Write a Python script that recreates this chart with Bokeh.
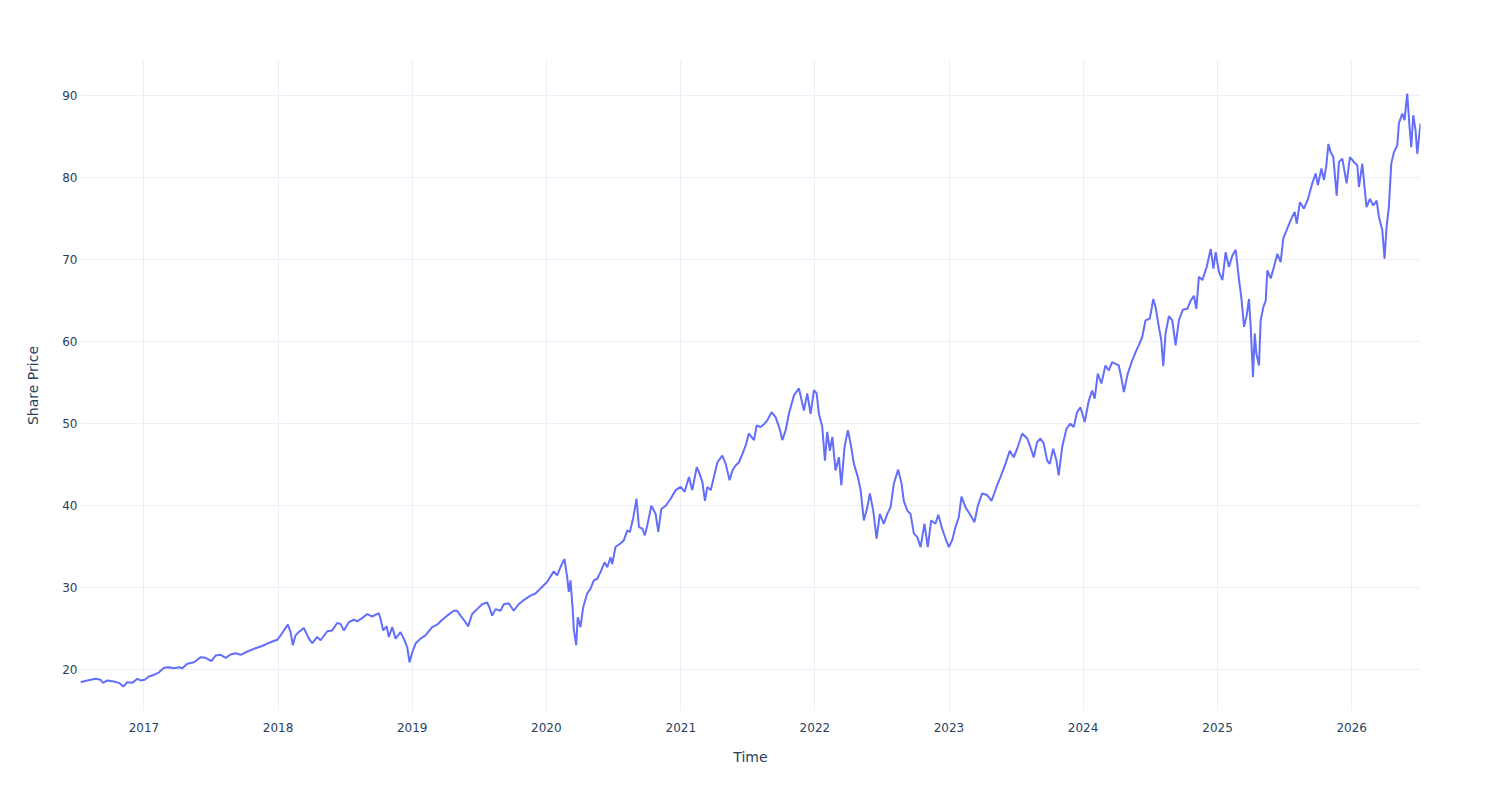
import pandas as pd
from bokeh.plotting import figure
from bokeh.models import Range1d, FixedTicker, DatetimeTickFormatter, ColumnDataSource
from bokeh.embed import file_html
from bokeh.resources import INLINE

# Observation times as decimal years, and the closing share price at each
obs_year = [
    2016.528, 2016.578, 2016.640, 2016.677, 2016.697, 2016.727, 2016.776, 2016.814, 2016.847, 2016.876,
    2016.914, 2016.951, 2016.975, 2017.005, 2017.037, 2017.075, 2017.112, 2017.149, 2017.186, 2017.224,
    2017.261, 2017.286, 2017.323, 2017.373, 2017.423, 2017.460, 2017.502, 2017.534, 2017.572, 2017.609,
    2017.646, 2017.683, 2017.721, 2017.771, 2017.820, 2017.870, 2017.907, 2017.957, 2017.994,
    2018.019, 2018.043, 2018.073, 2018.093, 2018.110, 2018.130, 2018.155, 2018.192, 2018.230,
    2018.255, 2018.292, 2018.317, 2018.367, 2018.404, 2018.441, 2018.466, 2018.490, 2018.528, 2018.565,
    2018.590, 2018.627, 2018.665, 2018.702, 2018.751, 2018.764, 2018.784, 2018.809, 2018.826, 2018.851,
    2018.876, 2018.913, 2018.943, 2018.963, 2018.980, 2019.000, 2019.025, 2019.062, 2019.099, 2019.149,
    2019.186, 2019.224, 2019.261, 2019.310, 2019.335, 2019.360, 2019.385, 2019.417, 2019.447, 2019.484,
    2019.522, 2019.559, 2019.576, 2019.596, 2019.621, 2019.658, 2019.683, 2019.720, 2019.757, 2019.794,
    2019.832, 2019.882, 2019.919, 2019.956, 2020.006, 2020.055, 2020.081, 2020.105, 2020.135, 2020.155,
    2020.167, 2020.180, 2020.197, 2020.204, 2020.222, 2020.234, 2020.254, 2020.274, 2020.304, 2020.329,
    2020.353, 2020.379, 2020.403, 2020.433, 2020.453, 2020.478, 2020.490, 2020.515, 2020.552, 2020.577,
    2020.602, 2020.622, 2020.647, 2020.671, 2020.689, 2020.714, 2020.733, 2020.751, 2020.781, 2020.813,
    2020.833, 2020.855, 2020.888, 2020.925, 2020.962, 2020.999, 2021.029, 2021.061, 2021.086, 2021.119,
    2021.136, 2021.161, 2021.180, 2021.198, 2021.223, 2021.247, 2021.273, 2021.310, 2021.335, 2021.364,
    2021.385, 2021.409, 2021.434, 2021.459, 2021.484, 2021.508, 2021.546, 2021.566, 2021.595, 2021.625,
    2021.645, 2021.677, 2021.707, 2021.737, 2021.757, 2021.782, 2021.806, 2021.844, 2021.881, 2021.918,
    2021.943, 2021.968, 2021.993, 2022.013, 2022.030, 2022.055, 2022.075, 2022.092, 2022.112, 2022.130,
    2022.154, 2022.179, 2022.197, 2022.221, 2022.246, 2022.266, 2022.291, 2022.320, 2022.341, 2022.365,
    2022.391, 2022.410, 2022.435, 2022.460, 2022.484, 2022.514, 2022.540, 2022.564, 2022.589, 2022.621,
    2022.646, 2022.663, 2022.689, 2022.713, 2022.738, 2022.763, 2022.788, 2022.817, 2022.842, 2022.867,
    2022.899, 2022.920, 2022.949, 2022.974, 2022.999, 2023.024, 2023.048, 2023.073, 2023.093, 2023.123,
    2023.155, 2023.190, 2023.215, 2023.247, 2023.285, 2023.317, 2023.359, 2023.384, 2023.421, 2023.453,
    2023.483, 2023.508, 2023.546, 2023.583, 2023.607, 2023.632, 2023.657, 2023.682, 2023.706, 2023.732,
    2023.751, 2023.777, 2023.801, 2023.818, 2023.844, 2023.876, 2023.905, 2023.930, 2023.955, 2023.980,
    2024.012, 2024.042, 2024.067, 2024.086, 2024.109, 2024.136, 2024.166, 2024.191, 2024.216, 2024.241,
    2024.265, 2024.283, 2024.303, 2024.332, 2024.365, 2024.395, 2024.414, 2024.440, 2024.464, 2024.496,
    2024.522, 2024.539, 2024.559, 2024.581, 2024.596, 2024.613, 2024.638, 2024.663, 2024.688, 2024.712,
    2024.742, 2024.775, 2024.800, 2024.824, 2024.842, 2024.861, 2024.887, 2024.919, 2024.949, 2024.969,
    2024.986, 2025.010, 2025.036, 2025.060, 2025.085, 2025.110, 2025.135, 2025.160, 2025.177, 2025.197,
    2025.217, 2025.234, 2025.247, 2025.264, 2025.277, 2025.289, 2025.309, 2025.321, 2025.341, 2025.359,
    2025.371, 2025.396, 2025.420, 2025.446, 2025.470, 2025.490, 2025.520, 2025.550, 2025.575, 2025.590,
    2025.614, 2025.644, 2025.674, 2025.706, 2025.731, 2025.748, 2025.774, 2025.793, 2025.811, 2025.826,
    2025.843, 2025.863, 2025.888, 2025.905, 2025.930, 2025.962, 2025.987, 2026.016, 2026.042, 2026.054,
    2026.079, 2026.098, 2026.111, 2026.136, 2026.161, 2026.186, 2026.203, 2026.228, 2026.245, 2026.260,
    2026.277, 2026.295, 2026.315, 2026.340, 2026.352, 2026.377, 2026.394, 2026.414, 2026.432, 2026.444,
    2026.459, 2026.476, 2026.489, 2026.513,
]

share_price = [
    18.49, 18.70, 18.90, 18.78, 18.41, 18.70, 18.57, 18.41, 17.96, 18.49,
    18.41, 18.90, 18.70, 18.78, 19.18, 19.39, 19.70, 20.24, 20.32, 20.20,
    20.32, 20.20, 20.73, 20.93, 21.54, 21.46, 21.05, 21.74, 21.83, 21.46,
    21.87, 22.02, 21.83, 22.23, 22.56, 22.84, 23.09, 23.45, 23.66,
    24.20, 24.80, 25.50, 24.60, 23.00, 24.20, 24.60, 25.10, 23.80,
    23.25, 24.00, 23.60, 24.70, 24.80, 25.70, 25.60, 24.80, 25.80, 26.10,
    25.90, 26.30, 26.80, 26.50, 26.90, 26.20, 24.80, 25.30, 24.00, 25.20,
    23.80, 24.60, 23.60, 22.75, 20.90, 22.10, 23.20, 23.80, 24.20, 25.20,
    25.50, 26.10, 26.60, 27.20, 27.20, 26.60, 26.10, 25.30, 26.80, 27.40,
    28.00, 28.20, 27.60, 26.60, 27.40, 27.20, 28.00, 28.10, 27.20, 28.00,
    28.50, 29.05, 29.30, 29.90, 30.70, 32.00, 31.50, 32.50, 33.50, 31.30,
    29.50, 30.90, 27.20, 25.00, 23.00, 26.40, 25.20, 27.60, 29.30, 29.90,
    30.90, 31.10, 31.90, 33.10, 32.50, 33.70, 32.90, 35.00, 35.40, 35.80,
    37.00, 36.80, 38.60, 40.85, 37.40, 37.20, 36.40, 37.60, 40.00, 39.00,
    36.80, 39.60, 40.00, 40.85, 41.90, 42.30, 41.70, 43.50, 41.90, 44.70,
    44.10, 42.90, 40.60, 42.30, 41.90, 43.50, 45.30, 46.10, 45.10, 43.10,
    44.30, 44.90, 45.30, 46.30, 47.35, 48.80, 48.00, 49.80, 49.60, 50.00,
    50.40, 51.40, 50.80, 49.40, 48.00, 49.20, 51.20, 53.45, 54.30, 51.60,
    53.70, 51.20, 54.10, 53.70, 51.20, 49.60, 45.50, 49.00, 46.70, 48.40,
    44.30, 45.90, 42.50, 47.15, 49.20, 47.60, 45.10, 43.50, 41.90, 38.20,
    39.80, 41.50, 39.40, 36.00, 39.00, 37.80, 39.00, 39.80, 42.70, 44.40,
    42.70, 40.60, 39.40, 39.00, 36.60, 36.20, 34.95, 37.80, 34.95, 38.20,
    37.80, 38.90, 37.20, 36.00, 34.95, 35.80, 37.40, 38.60, 41.10, 39.80,
    39.00, 38.00, 40.00, 41.50, 41.30, 40.60, 42.50, 43.50, 45.10, 46.70,
    45.90, 46.95, 48.80, 48.20, 47.15, 45.90, 47.75, 48.20, 47.60, 45.50,
    45.10, 46.95, 45.50, 43.70, 47.15, 49.40, 50.00, 49.60, 51.40, 52.00,
    50.20, 52.80, 54.05, 53.05, 56.10, 54.90, 57.10, 56.50, 57.50, 57.30,
    57.10, 55.70, 53.85, 56.10, 57.70, 58.90, 59.55, 60.60, 62.60, 62.80,
    65.20, 64.20, 62.20, 60.20, 57.00, 61.00, 63.10, 62.60, 59.55, 62.60,
    63.90, 64.00, 65.00, 65.60, 64.00, 67.90, 67.50, 69.10, 71.30, 68.90,
    70.90, 68.50, 67.50, 70.90, 69.10, 70.50, 71.20, 67.50, 65.40, 61.80,
    63.20, 65.20, 61.80, 55.70, 61.00, 58.55, 57.10, 62.60, 64.20, 65.00,
    68.70, 67.70, 69.10, 70.70, 69.70, 72.60, 73.80, 75.00, 75.80, 74.40,
    77.00, 76.20, 77.40, 79.30, 80.50, 79.10, 81.10, 79.70, 81.50, 84.10,
    83.10, 82.50, 77.80, 81.90, 82.30, 79.30, 82.50, 81.90, 81.50, 78.85,
    81.70, 78.45, 76.40, 77.40, 76.60, 77.20, 75.20, 73.60, 70.10, 74.00,
    76.40, 81.70, 83.10, 83.90, 86.60, 87.80, 87.00, 90.25, 86.00, 83.70,
    87.60, 85.80, 82.90, 86.60,
]

year_ticks = [2017, 2018, 2019, 2020, 2021, 2022, 2023, 2024, 2025, 2026]
price_ticks = [20, 30, 40, 50, 60, 70, 80, 90]


def to_timestamp(y):
    """Turn a decimal year into a pandas Timestamp."""
    base = int(y)
    start = pd.Timestamp(base, 1, 1)
    span = pd.Timestamp(base + 1, 1, 1) - start
    return start + (y - base) * span


dates = [to_timestamp(y) for y in obs_year]
source = ColumnDataSource(dict(date=dates, price=share_price))

TEXT = "#2a3f5f"
GRID = "#ebf0f8"
FONT = "DejaVu Sans"

p = figure(
    width=1500,
    height=800,
    x_axis_type="datetime",
    output_backend="svg",
    toolbar_location=None,
    x_range=Range1d(dates[0], dates[-1]),
    y_range=Range1d(15.04, 94.27),
    min_border_left=80,
    min_border_right=80,
    min_border_top=60,
    min_border_bottom=90,
)
p.outline_line_color = None
p.background_fill_color = "white"
p.border_fill_color = "white"

p.line("date", "price", source=source, line_color="#636efa", line_width=2)

# x axis: one tick per calendar year
p.xaxis.ticker = FixedTicker(ticks=[pd.Timestamp(y, 1, 1).timestamp() * 1000 for y in year_ticks])
p.xaxis.formatter = DatetimeTickFormatter(years="%Y", months="%Y", days="%Y")
p.yaxis.ticker = FixedTicker(ticks=price_ticks)

for ax in (p.xaxis, p.yaxis):
    ax.axis_line_color = None
    ax.major_tick_line_color = None
    ax.minor_tick_line_color = None
    ax.major_tick_out = 0
    ax.major_tick_in = 0
    ax.major_label_text_font = FONT
    ax.major_label_text_font_size = "12px"
    ax.major_label_text_color = TEXT
    ax.axis_label_text_font = FONT
    ax.axis_label_text_font_size = "14px"
    ax.axis_label_text_color = TEXT
    ax.axis_label_text_font_style = "normal"

p.xaxis.axis_label = "Time"
p.yaxis.axis_label = "Share Price"
p.xaxis.major_label_standoff = 12
p.xaxis.axis_label_standoff = 14
p.yaxis.major_label_standoff = 3
p.yaxis.axis_label_standoff = 18

p.xgrid.grid_line_color = GRID
p.ygrid.grid_line_color = GRID
p.xgrid.grid_line_width = 1
p.ygrid.grid_line_width = 1

open("out.html", "w").write(file_html(p, INLINE))
